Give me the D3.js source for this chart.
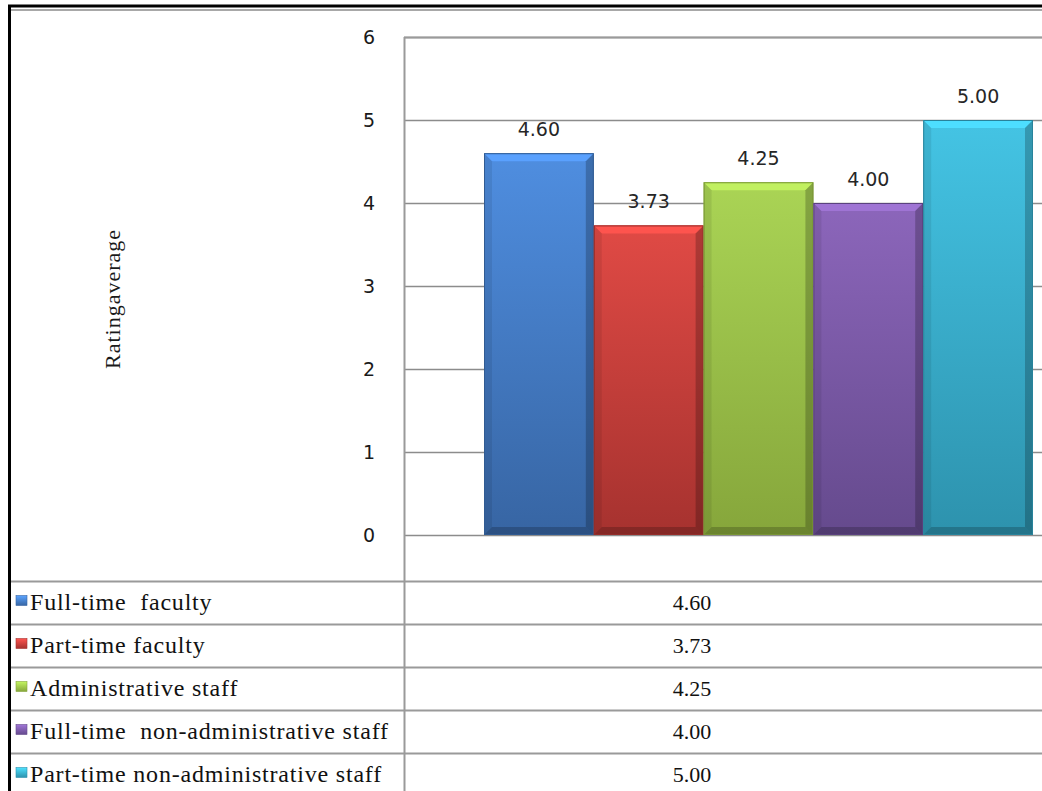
<!DOCTYPE html>
<html>
<head>
<meta charset="utf-8">
<script src="https://cdn.jsdelivr.net/npm/d3@7"></script>
<style>
  html, body { margin: 0; padding: 0; background: #fff; }
  svg { display: block; }
</style>
</head>
<body>
<svg id="chart" width="1042" height="791"></svg>
<script>
// data
const categories = ["Full-time faculty", "Part-time faculty", "Administrative staff",
    "Full-time non-administrative staff", "Part-time non-administrative staff"];
const legendLabels = ["Full-time  faculty", "Part-time faculty", "Administrative staff",
    "Full-time  non-administrative staff", "Part-time non-administrative staff"];
const values = [4.60, 3.73, 4.25, 4.00, 5.00];
const yTicks = [0, 1, 2, 3, 4, 5, 6];
const axisTitle = "Ratingaverage";

// bar colours (top light, bottom dark)
const barColors = [
    ["#4f8ee0", "#3765a3"],
    ["#e04a45", "#a6322f"],
    ["#aad455", "#86a63b"],
    ["#8c66bb", "#654a8d"],
    ["#44c4e4", "#2d92ad"]
];

const svg = d3.select("#chart");
const W = 1042, H = 791;
const plotLeft = 404, plotTop = 37, plotBottom = 535;
const tableTop = 581, tableBottom = 796;

const y = d3.scaleLinear().domain([0, 6]).range([plotBottom, plotTop]);
const x = d3.scaleBand().domain(categories).range([484, 1033]).padding(0);
const rows = d3.scaleBand().domain(categories).range([tableTop, tableBottom]);

// gradients
const defs = svg.append("defs");
barColors.forEach((c, i) => {
    const g = defs.append("linearGradient").attr("id", "bar" + i)
        .attr("x1", 0).attr("y1", 0).attr("x2", 0).attr("y2", 1);
    g.append("stop").attr("offset", "0%").attr("stop-color", c[0]);
    g.append("stop").attr("offset", "100%").attr("stop-color", c[1]);
    const m = defs.append("linearGradient").attr("id", "mark" + i)
        .attr("x1", 0).attr("y1", 0).attr("x2", 0).attr("y2", 1);
    m.append("stop").attr("offset", "0%").attr("stop-color", d3.color(c[0]).brighter(0.4));
    m.append("stop").attr("offset", "100%").attr("stop-color", c[1]);
});

// gridlines
svg.append("g")
    .selectAll("line")
    .data(yTicks)
    .enter().append("line")
    .attr("x1", plotLeft).attr("x2", W)
    .attr("y1", d => Math.round(y(d)) + 0.5).attr("y2", d => Math.round(y(d)) + 0.5)
    .attr("stroke", "#8c8c8c").attr("stroke-width", 1.3);

// tick labels
svg.append("g")
    .selectAll("text")
    .data(yTicks)
    .enter().append("text")
    .attr("x", 375).attr("y", d => y(d) + 7)
    .attr("text-anchor", "end")
    .style("font-family", "DejaVu Sans, Verdana, sans-serif")
    .style("font-size", "19px")
    .attr("fill", "#1a1a1a")
    .text(d => d);

// axis title
svg.append("text")
    .attr("transform", "translate(120,299) rotate(-90)")
    .attr("text-anchor", "middle")
    .style("font-family", "Liberation Serif, Times New Roman, serif")
    .style("font-size", "22px")
    .style("letter-spacing", "1px")
    .attr("fill", "#1a1a1a")
    .text(axisTitle);

// bars with bevel
const bev = 8;
const bars = svg.append("g")
    .selectAll("g")
    .data(categories)
    .enter().append("g");

bars.each(function (cat, i) {
    const g = d3.select(this);
    const x0 = x(cat), x1 = x(cat) + x.bandwidth();
    const y0 = y(values[i]), y1 = y(0);
    const c = barColors[i];
    g.append("rect")
        .attr("x", x0).attr("y", y0)
        .attr("width", x1 - x0).attr("height", y1 - y0)
        .attr("fill", "url(#bar" + i + ")");
    // top bevel
    g.append("polygon")
        .attr("points", [[x0, y0], [x1, y0], [x1 - bev, y0 + bev], [x0 + bev, y0 + bev]].join(" "))
        .attr("fill", d3.color(c[0]).brighter(0.35));
    // left bevel
    g.append("polygon")
        .attr("points", [[x0, y0], [x0 + bev, y0 + bev], [x0 + bev, y1 - bev], [x0, y1]].join(" "))
        .attr("fill", "#000").attr("opacity", 0.08);
    // right bevel
    g.append("polygon")
        .attr("points", [[x1, y0], [x1, y1], [x1 - bev, y1 - bev], [x1 - bev, y0 + bev]].join(" "))
        .attr("fill", "#000").attr("opacity", 0.22);
    // bottom bevel
    g.append("polygon")
        .attr("points", [[x0, y1], [x1, y1], [x1 - bev, y1 - bev], [x0 + bev, y1 - bev]].join(" "))
        .attr("fill", "#000").attr("opacity", 0.2);
    g.append("rect")
        .attr("x", x0 + 0.5).attr("y", y0 + 0.5)
        .attr("width", x1 - x0 - 1).attr("height", y1 - y0 - 1)
        .attr("fill", "none").attr("stroke", d3.color(c[1]).darker(0.3)).attr("stroke-width", 1);
});

// data labels
svg.append("g")
    .selectAll("text")
    .data(categories)
    .enter().append("text")
    .attr("x", d => x(d) + x.bandwidth() / 2)
    .attr("y", (d, i) => y(values[i]) - 17)
    .attr("text-anchor", "middle")
    .style("font-family", "DejaVu Sans, Verdana, sans-serif")
    .style("font-size", "19px")
    .attr("fill", "#262626")
    .text((d, i) => values[i].toFixed(2));

// data table lines
const rowLines = categories.map(c => rows(c));
svg.append("g")
    .selectAll("line")
    .data(rowLines)
    .enter().append("line")
    .attr("x1", 10).attr("x2", W)
    .attr("y1", d => Math.round(d) + 0.5).attr("y2", d => Math.round(d) + 0.5)
    .attr("stroke", "#9a9a9a").attr("stroke-width", 2);

// plot frame / table divider
svg.append("line")
    .attr("x1", plotLeft + 0.5).attr("x2", plotLeft + 0.5)
    .attr("y1", plotTop).attr("y2", H)
    .attr("stroke", "#9a9a9a").attr("stroke-width", 2);
svg.append("line")
    .attr("x1", plotLeft).attr("x2", W)
    .attr("y1", plotTop + 0.5).attr("y2", plotTop + 0.5)
    .attr("stroke", "#9a9a9a").attr("stroke-width", 2);

// legend keys + labels
const legend = svg.append("g")
    .selectAll("g")
    .data(categories)
    .enter().append("g")
    .attr("transform", d => `translate(0,${rows(d) + rows.bandwidth() / 2})`);

legend.append("rect")
    .attr("x", 16).attr("y", -7)
    .attr("width", 11).attr("height", 10)
    .attr("fill", (d, i) => "url(#mark" + i + ")")
    .attr("stroke", (d, i) => barColors[i][1]).attr("stroke-width", 0.6);

legend.append("text")
    .attr("x", 30).attr("y", 7)
    .style("font-family", "Liberation Serif, Times New Roman, serif")
    .style("font-size", "24px")
    .style("letter-spacing", "0.8px")
    .style("white-space", "pre")
    .attr("fill", "#111")
    .text((d, i) => legendLabels[i]);

legend.append("text")
    .attr("x", 692).attr("y", 7)
    .attr("text-anchor", "middle")
    .style("font-family", "Liberation Serif, Times New Roman, serif")
    .style("font-size", "22px")
    .attr("fill", "#111")
    .text((d, i) => values[i].toFixed(2));

// outer frame
svg.append("line")
    .attr("x1", 8).attr("x2", W).attr("y1", 6).attr("y2", 6)
    .attr("stroke", "#000").attr("stroke-width", 3);
svg.append("line")
    .attr("x1", 10).attr("x2", W).attr("y1", 10).attr("y2", 10)
    .attr("stroke", "#a8a8a8").attr("stroke-width", 2);
svg.append("line")
    .attr("x1", 9.5).attr("x2", 9.5).attr("y1", 5).attr("y2", H)
    .attr("stroke", "#000").attr("stroke-width", 3);
</script>
</body>
</html>
